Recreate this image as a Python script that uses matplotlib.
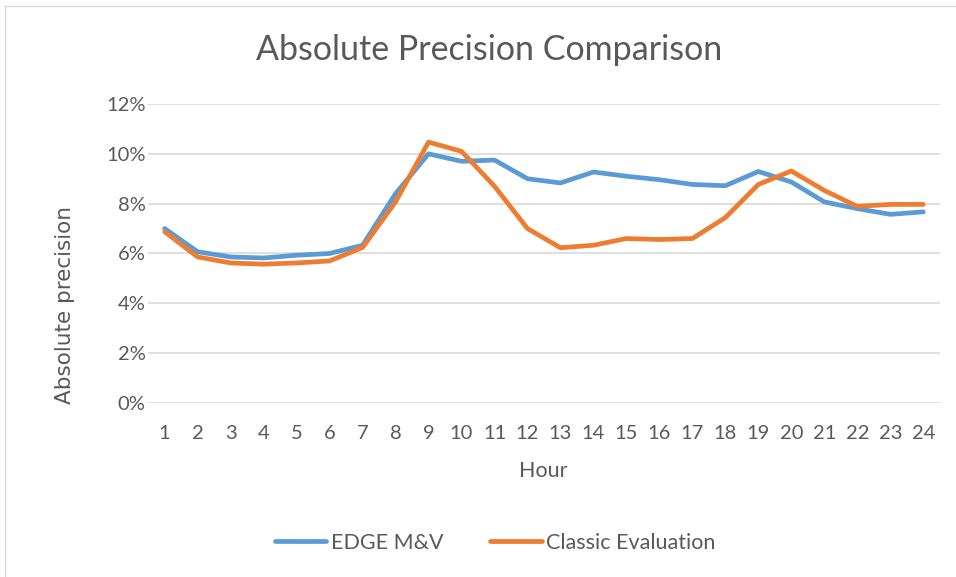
import matplotlib
matplotlib.use("Agg")
import matplotlib.pyplot as plt
from matplotlib.ticker import FuncFormatter
from matplotlib.patches import Rectangle

hours = list(range(1, 25))
edge_mv = [7.00, 6.07, 5.86, 5.82, 5.93, 6.00, 6.33, 8.40, 10.00, 9.70, 9.75, 9.00,
           8.83, 9.27, 9.10, 8.96, 8.77, 8.72, 9.29, 8.87, 8.07, 7.80, 7.57, 7.67]
classic = [6.87, 5.86, 5.62, 5.57, 5.62, 5.70, 6.24, 8.07, 10.47, 10.10, 8.70, 7.00,
           6.23, 6.33, 6.60, 6.56, 6.60, 7.44, 8.77, 9.31, 8.53, 7.89, 7.97, 7.97]
yticks = [0, 2, 4, 6, 8, 10, 12]

plt.rcParams['font.family'] = ['Lato', 'DejaVu Sans']
txt = '#595959'

fig = plt.figure(figsize=(9.56, 5.77), dpi=100)
fig.patches.append(Rectangle((0.005, -0.01), 1.2, 1.0, transform=fig.transFigure,
                             fill=False, edgecolor='#d9d9d9', linewidth=1.0))
ax = fig.add_axes([0.155, 0.3016, 0.828, 0.5182])

ax.plot(hours, edge_mv, color='#5B9BD5', linewidth=3.4, label='EDGE M&V', solid_capstyle='round')
ax.plot(hours, classic, color='#ED7D31', linewidth=3.4, label='Classic Evaluation', solid_capstyle='round')

ax.set_xlim(0.5, 24.5)
ax.set_ylim(0, 12)
ax.set_yticks(yticks)
ax.yaxis.set_major_formatter(FuncFormatter(lambda v, p: f"{int(v)}%"))
ax.set_xticks(hours)
ax.grid(axis='y', color='#d9d9d9', linewidth=1.2)
ax.set_axisbelow(True)
for s in ax.spines.values():
    s.set_visible(False)
ax.tick_params(axis='both', length=0, labelsize=14.5, colors=txt)
ax.tick_params(axis='y', pad=2)
ax.tick_params(axis='x', pad=16)

fig.text(0.512, 1 - 50 / 577, 'Absolute Precision Comparison', fontsize=24.5, color=txt,
         ha='center', va='center')
fig.text(543 / 956, 1 - 471 / 577, 'Hour', fontsize=15.5, color=txt, ha='center', va='center')
fig.text(65 / 956, 1 - 305 / 577, 'Absolute precision', fontsize=15.5, color=txt,
         ha='center', va='center', rotation=90, family=['DejaVu Sans'])

leg = fig.legend(loc='center', bbox_to_anchor=(0.518, 1 - 543 / 577), ncol=2, frameon=False,
                 fontsize=15.5, handlelength=2.4, columnspacing=2.2, handletextpad=0.2)
for t in leg.get_texts():
    t.set_color(txt)

fig.savefig('out.png', dpi=100)
